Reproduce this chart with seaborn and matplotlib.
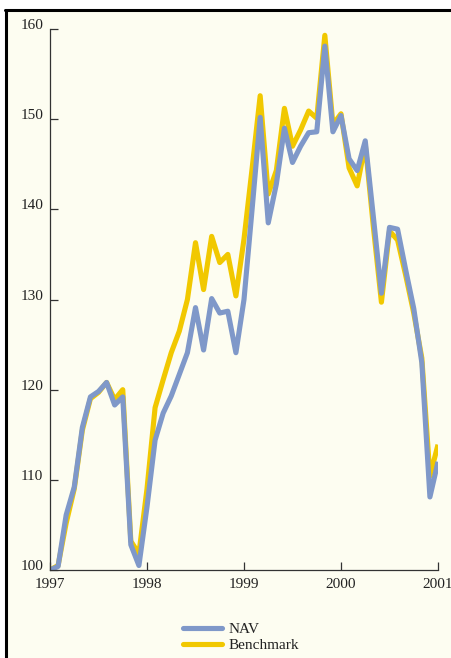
import numpy as np
import pandas as pd
import matplotlib
matplotlib.use("Agg")
import matplotlib.pyplot as plt
import seaborn as sns
from matplotlib.lines import Line2D
from matplotlib.transforms import ScaledTranslation

# monthly index values, Jan 1997 .. Jan 2001
nav = [100.0, 100.4, 106.1, 109.2, 115.8, 119.2, 119.8, 120.8, 118.3, 119.2, 102.8, 100.5,
       107.0, 114.4, 117.4, 119.3, 121.7, 124.1, 129.1, 124.4, 130.1, 128.5, 128.7, 124.1,
       130.0, 140.0, 150.2, 138.5, 142.8, 149.0, 145.2, 147.0, 148.5, 148.6, 158.1, 148.6,
       150.4, 145.6, 144.3, 147.6, 139.2, 130.7, 138.0, 137.8, 133.3, 129.0, 123.0, 108.1,
       112.0]
benchmark = [100.0, 100.5, 105.2, 109.0, 115.5, 119.0, 119.7, 120.8, 118.9, 120.0, 103.2, 101.8,
             109.0, 118.0, 121.1, 124.1, 126.5, 130.0, 136.3, 131.1, 137.0, 134.1, 135.0, 130.4,
             136.7, 144.5, 152.6, 141.7, 144.3, 151.2, 147.0, 148.8, 150.9, 150.1, 159.3, 149.4,
             150.6, 144.6, 142.6, 147.2, 138.1, 129.7, 137.6, 136.6, 132.7, 128.5, 123.5, 110.4,
             113.9]
year_ticks = [1997, 1998, 1999, 2000, 2001]
value_ticks = [100, 110, 120, 130, 140, 150, 160]

df = pd.DataFrame({
    "date": 1997 + np.arange(len(nav)) / 12,
    "NAV": nav,
    "Benchmark": benchmark,
})

BG = "#fdfdf1"
BLUE = "#7f98c9"
GOLD = "#f1c800"
INK = "#222222"

sns.set_style("ticks")
plt.rcParams["font.family"] = ["Liberation Serif", "DejaVu Serif"]

fig = plt.figure(figsize=(4.52, 6.58), dpi=100, facecolor="white")
# cream panel with black frame on left and top
fig.patches.append(plt.Rectangle((5.5 / 452, 0), 1, 1 - 10 / 658, transform=fig.transFigure,
                                 facecolor=BG, edgecolor="none", zorder=-5))
fig.add_artist(Line2D([6 / 452, 6 / 452], [0, 1 - 10 / 658], color="black", lw=2.2, zorder=-4))
fig.add_artist(Line2D([5 / 452, 1], [1 - 10 / 658, 1 - 10 / 658], color="black", lw=2.2, zorder=-4))

ax = fig.add_axes([50 / 452, 88 / 658, 388 / 452, 541 / 658])
ax.set_facecolor("none")

sns.lineplot(data=df, x="date", y="Benchmark", ax=ax, color=GOLD, lw=3.7,
             solid_joinstyle="round", solid_capstyle="butt")
sns.lineplot(data=df, x="date", y="NAV", ax=ax, color=BLUE, lw=3.7,
             solid_joinstyle="round", solid_capstyle="butt")

ax.set_xlim(1997, 2001)
ax.set_ylim(100, 160)
ax.set_xticks(year_ticks)
ax.set_xticklabels([str(y) for y in year_ticks])
ax.set_yticks(value_ticks)
ax.set_xlabel("")
ax.set_ylabel("")

sns.despine(ax=ax)
for side in ["left", "bottom"]:
    ax.spines[side].set_color("#333333")
    ax.spines[side].set_linewidth(0.9)
ax.tick_params(axis="both", direction="in", length=6, width=0.9, color="#333333",
               labelsize=11, labelcolor=INK)
ax.tick_params(axis="x", pad=6)
ax.tick_params(axis="y", pad=5)
for lab in ax.get_yticklabels():
    lab.set_transform(lab.get_transform() + ScaledTranslation(0, 5 / 100, fig.dpi_scale_trans))

handles = [Line2D([], [], color=BLUE, lw=3.7), Line2D([], [], color=GOLD, lw=3.7)]
fig.legend(handles, ["NAV", "Benchmark"], loc="upper left",
           bbox_to_anchor=(169 / 452, 1 - 609 / 658), frameon=False, fontsize=11,
           handlelength=2.6, handletextpad=0.4, labelspacing=0.15, labelcolor=INK)

fig.savefig("out.png", dpi=100, facecolor="white")
